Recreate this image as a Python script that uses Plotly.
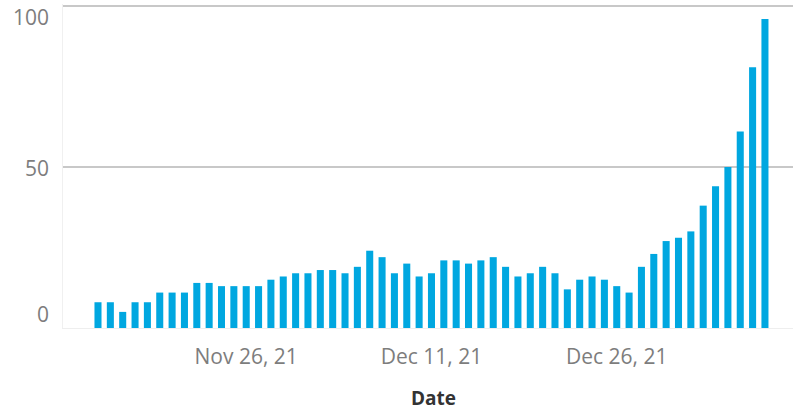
import plotly.graph_objects as go
import pandas as pd

start_date = "2021-11-14"
values = [8, 8, 5, 8, 8, 11, 11, 11, 14, 14, 13, 13, 13, 13, 15, 16, 17, 17, 18, 18,
          17, 19, 24, 22, 17, 20, 16, 17, 21, 21, 20, 21, 22, 19, 16, 17, 19, 17, 12, 15,
          16, 15, 13, 11, 19, 23, 27, 28, 30, 38, 44, 50, 61, 81, 96]
dates = pd.date_range(start_date, periods=len(values), freq="D")
tick_dates = ["2021-11-26", "2021-12-11", "2021-12-26"]
tick_labels = ["Nov 26, 21", "Dec 11, 21", "Dec 26, 21"]
y_ticks = [0, 50, 100]
y_labels = ["0", "50", "100"]

FONT = "Open Sans"
fig = go.Figure(go.Bar(
    x=dates, y=values,
    marker=dict(color="#00A7E0", line=dict(width=0)),
    width=0.57 * 86400000,
))

fig.update_layout(
    width=794, height=411,
    margin=dict(l=63, r=1, t=4, b=83),
    paper_bgcolor="white", plot_bgcolor="white",
    showlegend=False,
    font=dict(family=FONT, size=21, color="#777777"),
)
fig.update_xaxes(
    type="date",
    range=["2021-11-11 04:00", "2022-01-09 06:30"],
    tickvals=tick_dates, ticktext=tick_labels,
    tickfont=dict(family=FONT, size=21, color="#7d7d7d"),
    ticks="outside", ticklen=10, tickcolor="rgba(0,0,0,0)",
    showgrid=False, showline=True, linecolor="#eeeeee", linewidth=1,
    zeroline=False,
)
fig.update_yaxes(
    range=[0, 100.62],
    tickvals=y_ticks, showticklabels=False,
    showgrid=True, gridcolor="#c8c8c8", gridwidth=2,
    zeroline=False, showline=True, linecolor="#f0f0f0", linewidth=1,
)

# y tick labels, clamped inside the plot like the original
label_shift = {0: 14, 50: -1, 100: -11}
for v, t in zip(y_ticks, y_labels):
    fig.add_annotation(
        x=0, xref="paper", xanchor="right", xshift=-12,
        y=v, yref="y", yanchor="middle", yshift=label_shift[v],
        text=t, showarrow=False,
        font=dict(family=FONT, size=21, color="#7d7d7d"),
    )

fig.add_annotation(
    x=(433 - 63) / 730, xref="paper", y=0, yref="paper",
    yanchor="middle", yshift=-(398 - 328),
    text="<b>Date</b>", showarrow=False,
    font=dict(family=FONT, size=19, color="#333333"),
)

fig.write_html("out.html", config={"displayModeBar": False},
               post_script="document.body.style.margin='0';")
